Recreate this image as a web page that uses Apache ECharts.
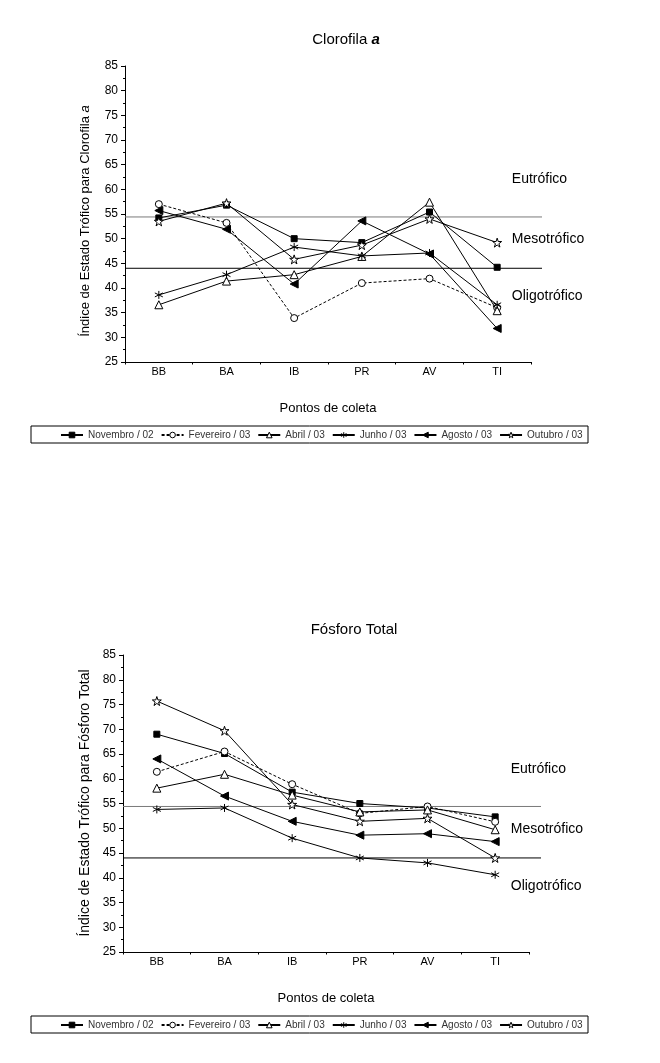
<!DOCTYPE html>
<html>
<head>
<meta charset="utf-8">
<script src="https://cdn.jsdelivr.net/npm/echarts@6/dist/echarts.min.js"></script>
<style>
html,body{margin:0;padding:0;background:#fff;}
#c{width:660px;height:1063px;}
</style>
</head>
<body>
<div id="c"></div>
<script>
// ---- data ----
const categories = ['BB', 'BA', 'IB', 'PR', 'AV', 'TI'];
const seriesNames = ['Novembro / 02', 'Fevereiro / 03', 'Abril / 03', 'Junho / 03', 'Agosto / 03', 'Outubro / 03'];

// Clorofila a
const chlNov = [54.2, 56.8, 50.0, 49.2, 55.4, 44.2];
const chlFev = [57.0, 53.2, 33.9, 41.0, 41.9, 36.0];
const chlAbr = [36.6, 41.4, 42.7, 46.4, 57.4, 35.4];
const chlJun = [38.6, 42.7, 48.3, 46.5, 47.1, 36.6];
const chlAgo = [55.7, 51.9, 40.8, 53.6, 46.9, 31.8];
const chlOut = [53.5, 57.2, 45.8, 48.7, 54.0, 49.2];

// Fosforo Total
const ptNov = [69.0, 65.1, 57.3, 55.0, 54.1, 52.3];
const ptFev = [61.4, 65.5, 58.9, 53.0, 54.4, 51.3];
const ptAbr = [58.1, 60.9, 56.7, 53.3, 53.7, 49.7];
const ptJun = [53.8, 54.1, 48.0, 44.0, 43.0, 40.6];
const ptAgo = [64.0, 56.5, 51.4, 48.6, 48.9, 47.3];
const ptOut = [75.7, 69.7, 54.8, 51.4, 52.0, 44.0];

// trophic state limits (eutrófico / mesotrófico, mesotrófico / oligotrófico)
const limitUpper = 54.4;
const limitLower = 44.0;
const zoneLabels = ['Eutrófico', 'Mesotrófico', 'Oligotrófico'];
const zoneLabelValues = [62, 49.9, 38.3];

const yMin = 25, yMax = 85, yStep = 5;

// ---- styles ----
const FONT = 'Liberation Sans, Arial, sans-serif';
const symbols = [
  {symbol: 'rect', size: 6, fill: '#000'},
  {symbol: 'circle', size: 7, fill: '#fff'},
  {symbol: 'triangle', size: 8, fill: '#fff'},
  {symbol: 'path://M5,0L5,10M0.7,2.5L9.3,7.5M0.7,7.5L9.3,2.5', size: 8, fill: '#000'},
  {symbol: 'path://M0,5L9,0L9,10Z', size: 8, fill: '#000'},
  {symbol: 'path://M5,0L6.2,3.6L10,3.6L6.9,5.9L8.1,9.5L5,7.3L1.9,9.5L3.1,5.9L0,3.6L3.8,3.6Z', size: 9, fill: '#fff'}
];

const chartDefs = [
  {
    title: '{n|Clorofila }{b|a}', titleX: 346, titleY: 40,
    yName: '{n|Índice de Estado Trófico para Clorofila }{i|a}', yNameY: 221, yNameSize: 13,
    grid: {left: 125, top: 66, width: 406, height: 296},
    limGrid: {left: 125, top: 66, width: 417, height: 296},
    data: [chlNov, chlFev, chlAbr, chlJun, chlAgo, chlOut],
    legendTop: 426
  },
  {
    title: '{n|Fósforo Total}', titleX: 354, titleY: 630,
    yName: '{n|Índice de Estado Trófico para Fósforo Total}', yNameY: 803, yNameSize: 14,
    grid: {left: 123, top: 655, width: 406, height: 297},
    limGrid: {left: 123, top: 655, width: 418, height: 297},
    data: [ptNov, ptFev, ptAbr, ptJun, ptAgo, ptOut],
    legendTop: 1016
  }
];

const option = {
  animation: false,
  backgroundColor: '#fff',
  textStyle: {fontFamily: FONT},
  grid: [], xAxis: [], yAxis: [], series: [], legend: [], graphic: []
};

chartDefs.forEach((cd, ci) => {
  const g0 = option.grid.length;
  option.grid.push(Object.assign({outerBoundsMode: 'none'}, cd.grid));
  option.grid.push(Object.assign({outerBoundsMode: 'none'}, cd.limGrid));
  const xa = option.xAxis.length;
  option.xAxis.push({
    type: 'category', gridIndex: g0, data: categories, boundaryGap: true,
    axisLine: {lineStyle: {color: '#000', width: 1}},
    axisTick: {alignWithLabel: true, length: 4, lineStyle: {color: '#000'}},
    axisLabel: {color: '#000', fontSize: 11, margin: 4, fontFamily: FONT},
    name: 'Pontos de coleta', nameLocation: 'middle', nameGap: 40,
    nameTextStyle: {color: '#000', fontSize: 13, fontFamily: FONT},
    splitLine: {show: false}
  });
  option.xAxis.push({
    type: 'category', gridIndex: g0, data: categories, boundaryGap: true, position: 'bottom',
    axisLine: {show: false},
    axisTick: {show: true, alignWithLabel: false, length: 2.5, lineStyle: {color: '#000'}},
    axisLabel: {show: false}, splitLine: {show: false}
  });
  option.xAxis.push({
    type: 'value', gridIndex: g0 + 1, min: 0, max: 1, show: false
  });
  const ya = option.yAxis.length;
  option.yAxis.push({
    type: 'value', gridIndex: g0, min: yMin, max: yMax, interval: yStep,
    axisLine: {show: true, lineStyle: {color: '#000', width: 1}},
    axisTick: {show: true, length: 4, lineStyle: {color: '#000'}},
    minorTick: {show: true, splitNumber: 2, length: 2, lineStyle: {color: '#000'}},
    axisLabel: {color: '#000', fontSize: 12, margin: 7, fontFamily: FONT},
    splitLine: {show: false}
  });
  option.yAxis.push({
    type: 'value', gridIndex: g0 + 1, min: yMin, max: yMax, show: false
  });

  [[limitUpper, '#7a7a7a'], [limitLower, '#000']].forEach(([v, col]) => {
    option.series.push({
      type: 'line', xAxisIndex: xa + 2, yAxisIndex: ya + 1,
      data: [[0, v], [1, v]], symbol: 'none', silent: true,
      lineStyle: {color: col, width: 1}, z: 1
    });
  });

  cd.data.forEach((arr, si) => {
    const s = symbols[si];
    option.series.push({
      name: seriesNames[si], type: 'line', xAxisIndex: xa, yAxisIndex: ya,
      data: arr, symbol: s.symbol, symbolSize: s.size, showAllSymbol: true,
      lineStyle: {color: '#000', width: 1, type: si === 1 ? [3, 2] : 'solid'},
      itemStyle: {color: s.fill, borderColor: '#000', borderWidth: 1},
      emphasis: {disabled: true}, z: 3 + si
    });
  });

  option.legend.push({
    data: seriesNames.map((n, si) => ({
      name: n,
      itemStyle: {color: symbols[si].fill, borderColor: '#000', borderWidth: 1}
    })),
    left: 60, top: cd.legendTop + 4, orient: 'horizontal',
    itemWidth: 22, itemHeight: 7, itemGap: 7, padding: 0,
    textStyle: {fontSize: 10, color: '#333', fontFamily: FONT},
    selectedMode: false
  });

  option.graphic.push({
    type: 'rect', shape: {x: 31, y: cd.legendTop, width: 557, height: 17},
    style: {fill: 'none', stroke: '#000', lineWidth: 1}, silent: true
  });
  option.graphic.push({
    type: 'text', x: cd.titleX, y: cd.titleY, silent: true,
    style: {
      text: cd.title, align: 'center', verticalAlign: 'middle',
      rich: {
        n: {fontSize: 15, fontFamily: FONT, fill: '#000'},
        b: {fontSize: 15, fontFamily: FONT, fontWeight: 'bold', fontStyle: 'italic', fill: '#000'}
      }
    }
  });
  option.graphic.push({
    type: 'text', x: 85, y: cd.yNameY, rotation: Math.PI / 2, silent: true,
    style: {
      text: cd.yName, align: 'center', verticalAlign: 'middle',
      rich: {
        n: {fontSize: cd.yNameSize, fontFamily: FONT, fill: '#000'},
        i: {fontSize: cd.yNameSize, fontFamily: FONT, fontStyle: 'italic', fill: '#000'}
      }
    }
  });
});

const chart = echarts.init(document.getElementById('c'), null, {renderer: 'canvas'});
chart.setOption(option);

// zone labels placed via the limit-grid value scale
function placeZoneLabels() {
  const extra = [];
  chartDefs.forEach((cd, ci) => {
    const gi = ci * 2 + 1;
    zoneLabelValues.forEach((v, k) => {
      const p = chart.convertToPixel({gridIndex: gi}, [0.93, v]);
      extra.push({
        type: 'text', x: p[0] - 1, y: p[1], silent: true,
        style: {text: zoneLabels[k], fontSize: 14, fontFamily: FONT, fill: '#000', align: 'left', verticalAlign: 'middle'}
      });
    });
  });
  chart.setOption({graphic: option.graphic.concat(extra)});
}
placeZoneLabels();
</script>
</body>
</html>
